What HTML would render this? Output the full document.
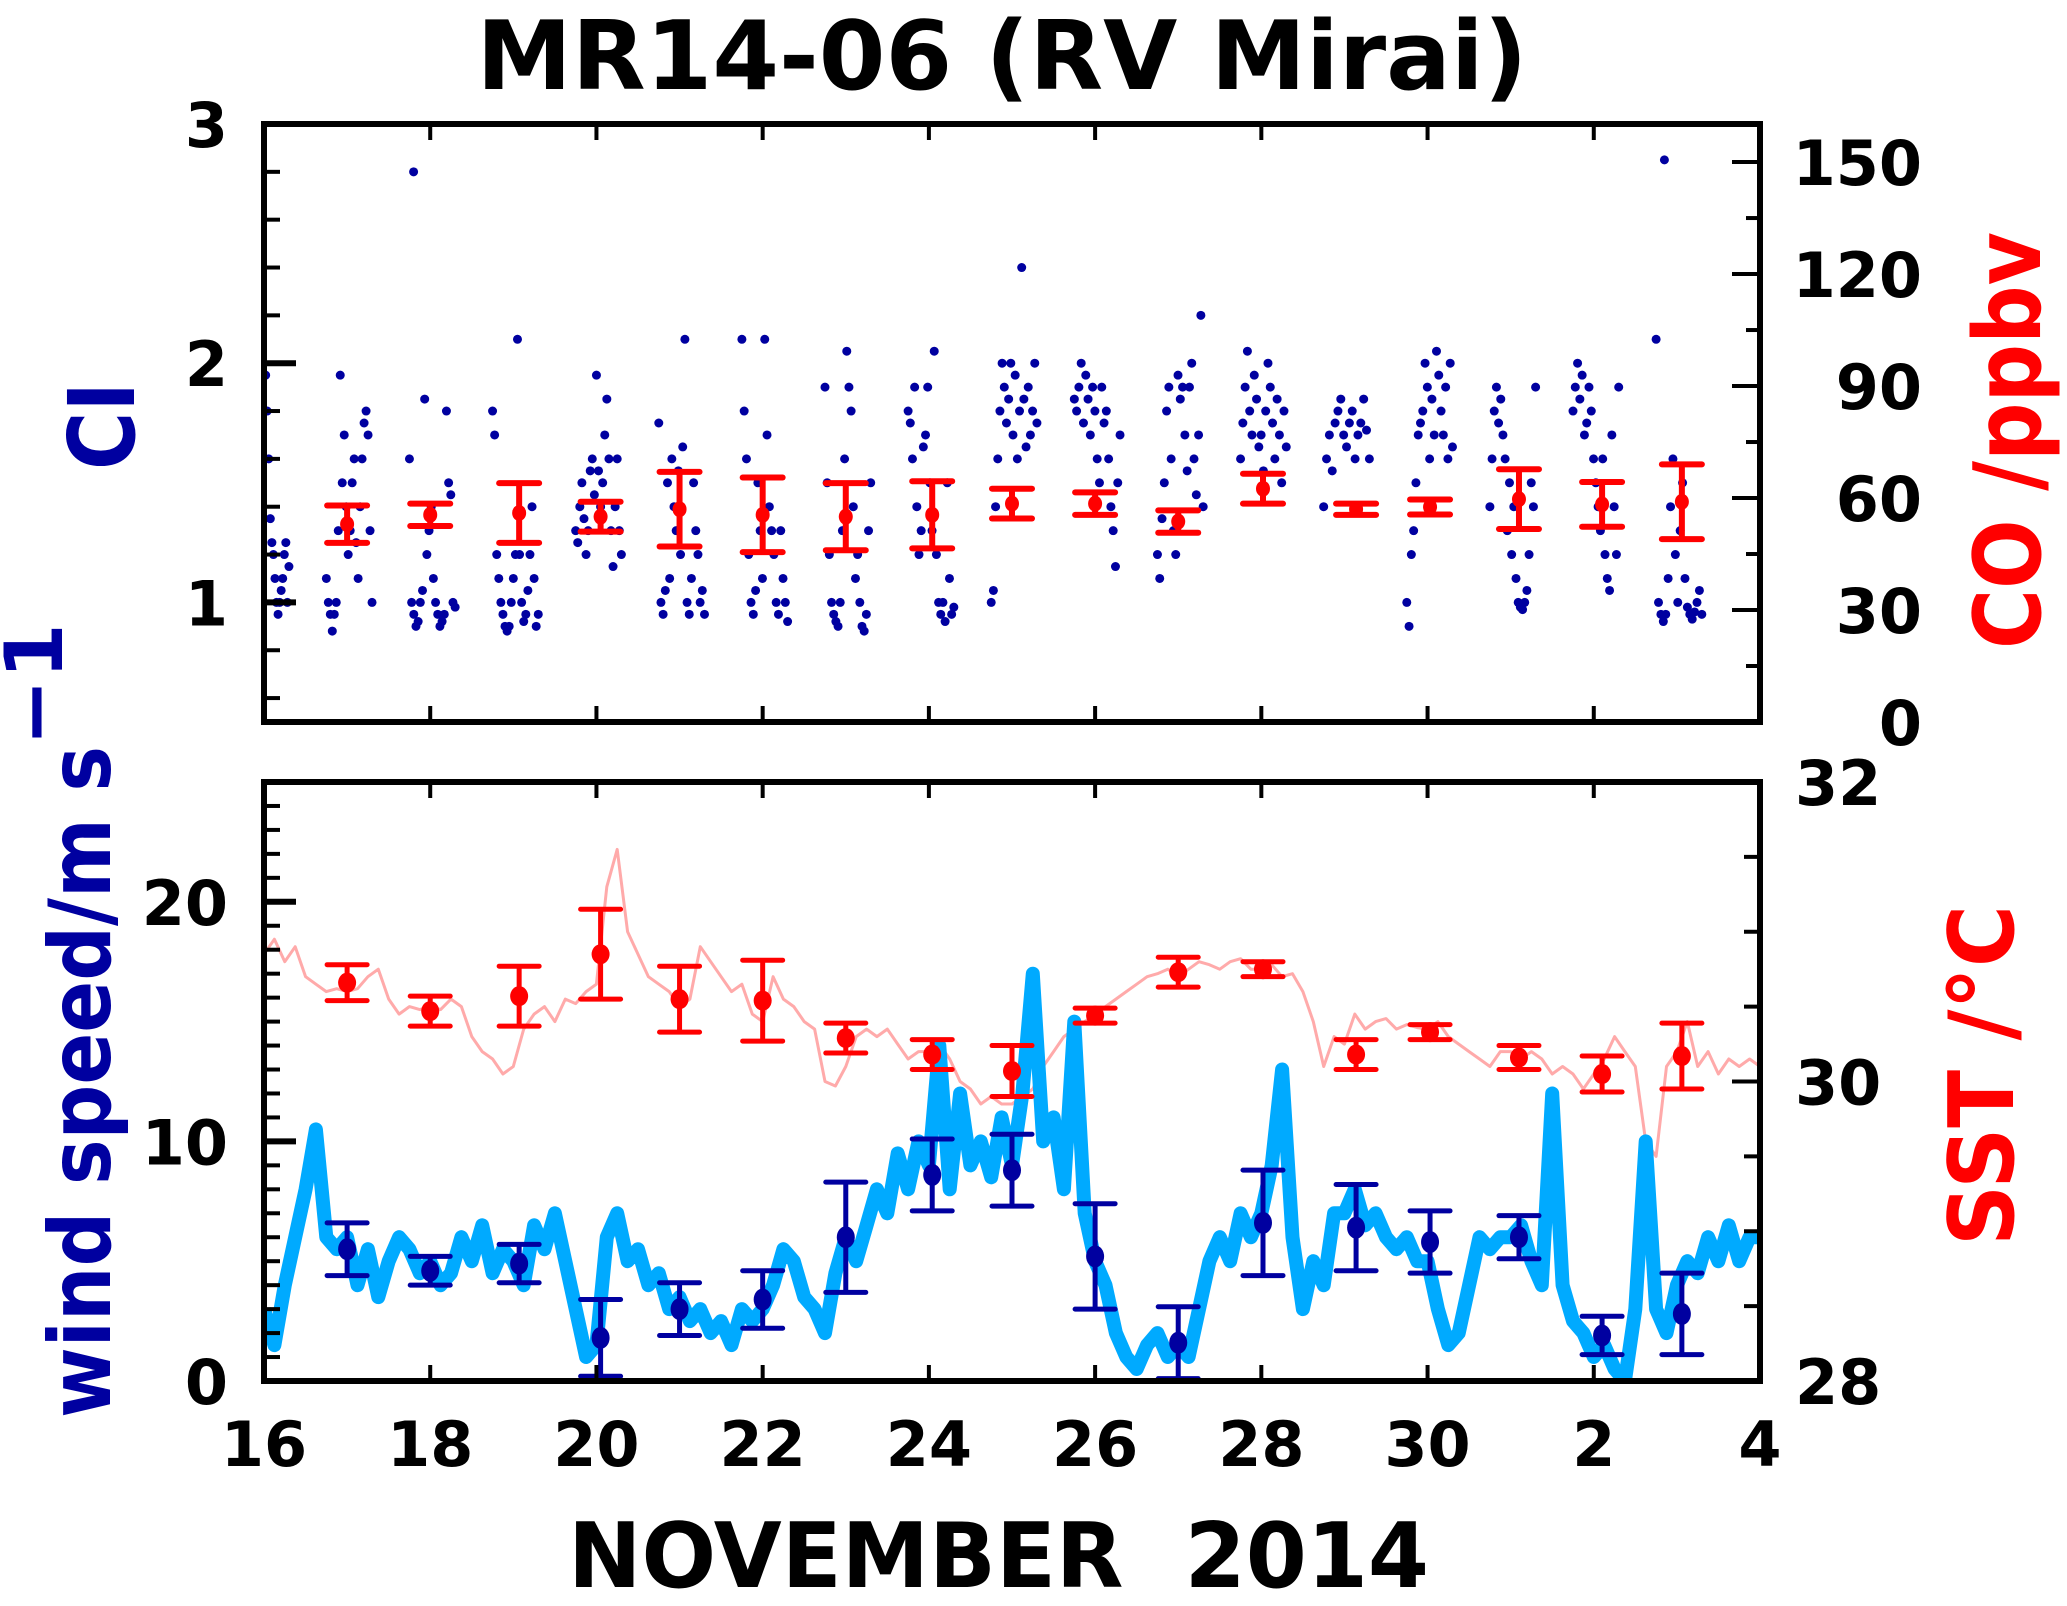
<!DOCTYPE html>
<html><head><meta charset="utf-8">
<style>
html,body{margin:0;padding:0;background:#fff;}
svg{display:block;}
text{font-family:"DejaVu Sans","Liberation Sans",sans-serif;font-weight:bold;}
</style></head>
<body>
<svg id="chart" width="2067" height="1606" viewBox="0 0 2067 1606" xmlns="http://www.w3.org/2000/svg">
  <text x="1002" y="89" font-size="95" text-anchor="middle" textLength="1051" lengthAdjust="spacingAndGlyphs">MR14-06 (RV Mirai)</text>
  <g id="gTop"></g>
  <g id="gBot"></g>
  <g id="gAxes"></g>
  <text transform="translate(134,470) rotate(-90)" font-size="92" fill="#0000a0" textLength="88" lengthAdjust="spacingAndGlyphs">CI</text>
  <text transform="translate(110,1418) rotate(-90)" font-size="86" fill="#0000a0"><tspan textLength="672" lengthAdjust="spacingAndGlyphs">wind speed/m s</tspan><tspan dy="-48" font-size="80">−1</tspan></text>
  <text transform="translate(2040,649) rotate(-90)" font-size="93" fill="#ff0000" textLength="417" lengthAdjust="spacingAndGlyphs">CO /ppbv</text>
  <text transform="translate(2013,1246) rotate(-90)" font-size="90" fill="#ff0000" textLength="341" lengthAdjust="spacingAndGlyphs">SST /°C</text>
  <text x="568" y="1587" font-size="90" textLength="861" lengthAdjust="spacingAndGlyphs" xml:space="preserve">NOVEMBER  2014</text>
</svg>
<script>
// ---------- data ----------
const ciDays = [16,17,18,19,20,21,22,23,24,25,26,27,28,29,30,31,32,33];
const ciValues = [
 [1.95,1.8,1.6,1.35,1.25,1.2,1.1,1.0,0.95,1.0,1.05,1.1,1.2,1.25,1.0,1.15],
 [1.1,1.0,0.95,0.88,0.95,1.0,1.3,1.95,1.5,1.7,1.4,1.2,1.3,1.5,1.6,1.25,1.1,1.4,1.6,1.75,1.8,1.7,1.3,1.0],
 [1.6,1.0,0.95,0.9,0.92,1.0,1.05,1.85,1.2,1.3,1.4,1.1,1.0,0.95,0.9,0.92,0.95,1.8,1.5,1.45,1.0,0.98],
 [1.8,1.7,1.2,1.1,1.0,0.95,0.9,0.88,0.9,1.0,1.1,1.2,2.1,1.2,1.0,0.92,0.95,1.05,1.2,1.4,1.1,0.9,0.95],
 [1.3,1.25,1.4,1.5,1.35,1.2,1.3,1.55,1.6,1.45,1.95,1.55,1.4,1.5,1.7,1.85,1.6,1.3,1.15,1.4,1.6,1.3,1.2],
 [1.75,1.0,0.95,1.05,1.5,1.1,1.6,1.4,1.3,1.55,1.2,1.65,2.1,1.0,0.95,1.1,1.5,1.3,1.2,1.0,1.05,0.95],
 [2.1,1.8,1.6,1.2,1.0,0.95,1.05,1.5,1.3,1.1,2.1,1.7,1.4,1.3,1.2,1.0,0.95,1.3,1.1,1.0,0.92],
 [1.9,1.5,1.2,1.0,0.95,0.92,0.9,1.0,1.3,1.6,2.05,1.9,1.8,1.4,1.1,1.2,1.0,0.9,0.88,0.95,1.3,1.5],
 [1.8,1.75,1.6,1.9,1.4,1.2,1.3,1.65,1.7,1.9,1.5,1.3,2.05,1.2,1.0,0.95,1.0,0.92,1.5,1.1,0.95,0.98],
 [1.0,1.05,1.4,1.6,1.8,2.0,1.9,1.75,1.85,2.0,1.7,1.95,1.6,1.8,2.4,1.85,1.65,1.9,1.7,1.8,2.0,1.75],
 [1.85,1.8,1.9,2.0,1.75,1.95,1.85,1.7,1.9,1.8,1.6,1.5,1.9,1.75,1.8,1.6,1.4,1.3,1.15,1.5,1.7],
 [1.2,1.1,1.35,1.5,1.8,1.9,1.6,1.3,1.2,1.95,1.85,1.9,1.7,1.55,1.9,2.0,1.6,1.45,1.7,2.2,1.4],
 [1.6,1.75,1.9,2.05,1.8,1.7,1.95,1.85,1.65,1.7,1.55,1.8,2.0,1.9,1.75,1.6,1.85,1.7,1.5,1.8,1.65],
 [1.4,1.6,1.7,1.55,1.75,1.8,1.85,1.7,1.65,1.75,1.8,1.6,1.7,1.75,1.85,1.72,1.6],
 [1.0,0.9,1.2,1.3,1.5,1.7,1.75,1.8,2.0,1.9,1.6,1.85,1.7,2.05,1.95,1.8,1.7,1.9,1.6,2.0,1.65],
 [1.4,1.6,1.8,1.9,1.75,1.85,1.7,1.6,1.3,1.5,1.2,1.4,1.1,1.0,0.98,0.97,1.0,1.05,1.2,1.5,1.4,1.9],
 [1.8,1.9,2.0,1.85,1.95,1.7,1.75,1.9,1.8,1.6,1.5,1.4,1.3,1.6,1.2,1.1,1.05,1.7,1.4,1.2,1.9],
 [2.1,1.0,0.95,0.92,0.95,1.1,1.4,1.6,1.2,1.0,1.3,1.5,1.1,0.98,0.95,0.93,0.96,1.0,1.05,0.95]
];
const ciOutlierT = [17.8, 32.85];
const ciOutlierV = [2.8, 2.85];

const coT = [17.0,18.0,19.07,20.05,21.0,22.0,23.0,24.04,25.0,26.0,27.0,28.02,29.14,30.03,31.1,32.1,33.06];
const coMean = [53,55.5,56,55,57,55.5,55,55.5,58.5,58.5,53.7,62.5,57,57.6,59.7,58.3,59];
const coErr = [5,3,8,4,10,10,9,9,4,3,3,4,1.5,2,8,6,10];

const lineStart = 16, lineStep = 0.125;
const windLine = [
 3,1.5,4,6,8,10.5,6,5.5, 6,4,5.5,3.5,5,6,5.5,4.5,
 5,4,4.5,6,5,6.5,4.5,5.5, 5,4,6.5,5.5,7,5,3,1,
 1.5,6,7,5,5.5,4,4.5,3, 3.5,2.5,3,2,2.5,1.5,3,2.5,
 3,4,5.5,5,3.5,3,2,4.5, 6,5,6.5,8,7,9.5,8,10,
 9,14,8,12,9,10,8.5,11, 9,12,17,10,11,8,15,7,
 5,4,2,1,0.5,1.5,2,1, 1.5,1,3,5,6,5,7,6,
 7,9,13,6,3,5,4,7, 7,8,6.5,7,6,5.5,6,5,
 5,3,1.5,2,4,6,5.5,6, 6,6.5,5,4,12,4,2.5,2,
 1,1.5,0.5,0,3,10,3,2, 4,5,4.5,6,5,6.5,5,6, 6];
const sstLine = [
 30.85,30.95,30.8,30.9,30.7,30.65,30.6,30.62, 30.6,30.62,30.7,30.75,30.55,30.45,30.5,30.48,
 30.5,30.48,30.55,30.5,30.3,30.2,30.15,30.05, 30.1,30.35,30.45,30.5,30.4,30.55,30.52,30.6,
 30.65,31.3,31.55,31.0,30.85,30.7,30.65,30.6, 30.5,30.55,30.9,30.8,30.7,30.6,30.65,30.45,
 30.4,30.7,30.55,30.5,30.4,30.35,30.0,29.97, 30.1,30.3,30.35,30.3,30.35,30.25,30.15,30.2,
 30.2,30.25,30.15,30.0,29.95,29.85,29.9,29.85, 29.85,29.9,29.95,30.1,30.2,30.3,30.35,30.4,
 30.45,30.5,30.55,30.6,30.65,30.7,30.72,30.75, 30.7,30.75,30.8,30.78,30.75,30.8,30.82,30.75,
 30.75,30.78,30.7,30.72,30.6,30.4,30.1,30.3, 30.25,30.45,30.35,30.4,30.42,30.35,30.38,30.36,
 30.35,30.4,30.3,30.25,30.2,30.15,30.1,30.2, 30.2,30.15,30.2,30.15,30.05,30.1,30.05,29.95,
 30.05,30.15,30.3,30.2,30.1,29.6,29.5,30.1, 30.2,30.4,30.1,30.2,30.05,30.15,30.1,30.15, 30.1];

const dailyT = [17.0,18.0,19.07,20.05,21.0,22.0,23.0,24.04,25.0,26.0,27.0,28.02,29.14,30.03,31.1,32.1,33.06];
const windMean = [5.5,4.6,4.9,1.8,3.0,3.4,6.0,8.6,8.8,5.2,1.6,6.6,6.4,5.8,6.0,1.9,2.8];
const windErr = [1.1,0.6,0.8,1.6,1.1,1.2,2.3,1.5,1.5,2.2,1.5,2.2,1.8,1.3,0.9,0.8,1.7];
const sstMean = [30.66,30.47,30.57,30.85,30.55,30.54,30.29,30.18,30.07,30.44,30.73,30.75,30.18,30.33,30.16,30.05,30.17];
const sstErr = [0.12,0.1,0.2,0.3,0.22,0.27,0.1,0.1,0.17,0.05,0.1,0.05,0.1,0.05,0.08,0.12,0.22];

const xTickVals = [16,18,20,22,24,26,28,30,32,34];
const xTickLabels = ["16","18","20","22","24","26","28","30","2","4"];
const ciTickLabels = ["1","2","3"];
const coTickLabels = ["0","30","60","90","120","150"];
const windTickLabels = ["0","10","20"];
const sstTickLabels = ["28","30","32"];

(function(){
const L=264, R=1760, T1=124, B1=722, T2=782, B2=1381;
const X = t => L + (t-16)*(R-L)/18;
const yCI = v => T1 + (3-v)*(B1-T1)/2.5;
const yCO = c => B1 - c*3.733;
const yW = w => B2 - w*(B2-T2)/25;
const yS = s => B2 - (s-28)*(B2-T2)/4;

const NS="http://www.w3.org/2000/svg";
function mk(tag, parent, attrs){const e=document.createElementNS(NS,tag);for(const k in attrs)e.setAttribute(k,attrs[k]);parent.appendChild(e);return e;}
const gTop=document.getElementById('gTop'), gBot=document.getElementById('gBot'), gAxes=document.getElementById('gAxes');

const defs=mk('defs',document.getElementById('chart'),{});
const c1=mk('clipPath',defs,{id:'clip1'}); mk('rect',c1,{x:L,y:T1,width:R-L,height:B1-T1});
const c2=mk('clipPath',defs,{id:'clip2'}); mk('rect',c2,{x:L,y:T2,width:R-L,height:B2-T2});
gTop.setAttribute('clip-path','url(#clip1)');
gBot.setAttribute('clip-path','url(#clip2)');

ciDays.forEach((d,i)=>{
  const vals=ciValues[i]; const t0 = d===16?16.02:d-0.25; const t1=d+0.3;
  vals.forEach((v,j)=>{
    const t=t0+(t1-t0)*j/(vals.length-1);
    const c=mk('circle',gTop,{cx:X(t),cy:yCI(v),r:4.5,fill:'#0000a0'});
    
    
  });
});
ciOutlierT.forEach((t,i)=>{
  const c=mk('circle',gTop,{cx:X(t),cy:yCI(ciOutlierV[i]),r:4.5,fill:'#0000a0'});
  
  
});
function errbar(g,x,y,ylo,yhi,color,rx,ry,sw,name){
  const grp=mk('g',g,{});
  
  
  mk('line',grp,{x1:x,x2:x,y1:ylo,y2:yhi,stroke:color,'stroke-width':sw});
  mk('line',grp,{x1:x-20,x2:x+20,y1:ylo,y2:ylo,stroke:color,'stroke-width':sw,'stroke-linecap':'round'});
  mk('line',grp,{x1:x-20,x2:x+20,y1:yhi,y2:yhi,stroke:color,'stroke-width':sw,'stroke-linecap':'round'});
  mk('ellipse',grp,{cx:x,cy:y,rx:rx,ry:ry,fill:color});
}
coT.forEach((t,i)=>errbar(gTop,X(t),yCO(coMean[i]),yCO(coMean[i]-coErr[i]),yCO(coMean[i]+coErr[i]),'#ff0000',7,8,6,'co-errorbar'));

function poly(arr,yf){return arr.map((v,i)=>X(lineStart+i*lineStep).toFixed(1)+','+yf(v).toFixed(1)).join(' ');}
const sl=mk('polyline',gBot,{points:poly(sstLine,yS),fill:'none',stroke:'#ffaaaa','stroke-width':3,'stroke-linejoin':'round'});


const wl=mk('polyline',gBot,{points:poly(windLine,yW),fill:'none',stroke:'#00aaff','stroke-width':14,'stroke-linejoin':'round'});


dailyT.forEach((t,i)=>{
  errbar(gBot,X(t),yS(sstMean[i]),yS(sstMean[i]-sstErr[i]),yS(sstMean[i]+sstErr[i]),'#ff0000',9,10,5,'sst-errorbar');
  errbar(gBot,X(t),yW(windMean[i]),yW(windMean[i]-windErr[i]),yW(windMean[i]+windErr[i]),'#0000a0',9,11,5,'wind-errorbar');
});

[[T1,B1],[T2,B2]].forEach(([a,b])=>{
  const r=mk('rect',gAxes,{x:L,y:a,width:R-L,height:b-a,fill:'none',stroke:'#000','stroke-width':6});
  
  
});
function tick(x1,y1,x2,y2,w){mk('line',gAxes,{x1,y1,x2,y2,stroke:'#000','stroke-width':w||4});}
function label(x,y,s,anchor,name){const t=mk('text',gAxes,{x,y,'font-size':62,'text-anchor':anchor});t.textContent=s;
  
  }
xTickVals.forEach((d,i)=>{
  const x=X(d);
  [T1,T2].forEach(y=>tick(x,y,x,y+16));
  [B1,B2].forEach(y=>tick(x,y,x,y-16));
  label(x,1466,xTickLabels[i],'middle','x-tick-label');
});
for(let k=3;k<=14;k++){const v=k*0.2;const y=yCI(v);if(y<T1+2||y>B1-2)continue;const maj=Math.abs(v-Math.round(v))<1e-6;tick(L,y,L+(maj?32:16),y,maj?6:4);}
ciTickLabels.forEach(s=>label(228,yCI(+s)+23,s,'end','ci-tick-label'));
for(let c=15;c<=150;c+=15){const y=yCO(c);const maj=c%30===0;tick(R,y,R-(maj?28:14),y,4);}
coTickLabels.forEach(s=>label(1922,yCO(+s)+23,s,'end','co-tick-label'));
for(let w=1;w<=24;w++){const y=yW(w);const maj=w%10===0;tick(L,y,L+(maj?32:16),y,maj?6:4);}
windTickLabels.forEach(s=>label(228,yW(+s)+23,s,'end','wind-tick-label'));
for(let k=1;k<8;k++){const s=28+k*0.5;const y=yS(s);tick(R,y,R-(k%4===0?28:16),y,4);}
sstTickLabels.forEach(s=>label(1795,yS(+s)+23,s,'start','sst-tick-label'));
})();
</script>
</body></html>
